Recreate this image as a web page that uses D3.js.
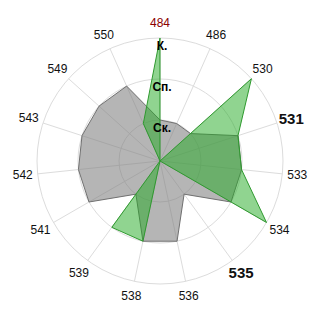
<!DOCTYPE html>
<html>
<head>
<meta charset="utf-8">
<script src="https://cdn.jsdelivr.net/npm/d3@7"></script>
<style>
body{margin:0;background:#fff;}
text{font-family:Arial,"Liberation Sans",sans-serif;}
</style>
</head>
<body>
<svg width="320" height="320"></svg>
<script>
var categories=["484","486","530","531","533","534","535","536","538","539","541","542","543","549","550"];
var grayValues=[1,1,1,2,2,2,1,2,2,1,2,2,2,2,2];
var greenValues=[3,0,3,2,2,3,0,0,2,2,0,0,0,0,1];
var ringLabels=["Ск.","Сп.","К."];
var boldCats=["531","535"];

var cx=160, cy=161, radius=123;
var svg=d3.select("svg");
var g=svg.append("g").attr("transform","translate("+cx+","+cy+")");

var angle=d3.scalePoint().domain(categories).range([0,2*Math.PI*(categories.length-1)/categories.length]);
var r=d3.scaleLinear().domain([0,3]).range([0,radius]);

// rings
g.selectAll("circle.ring").data([1,2,3]).enter()
  .append("circle")
  .attr("r",function(d){return r(d);})
  .attr("fill","none")
  .attr("stroke","#dcdcdc");

// spokes
g.selectAll("line.spoke").data(categories).enter()
  .append("line")
  .attr("x1",0).attr("y1",0)
  .attr("x2",function(d){return r(3)*Math.sin(angle(d));})
  .attr("y2",function(d){return -r(3)*Math.cos(angle(d));})
  .attr("stroke","#dcdcdc");

var radar=d3.lineRadial()
  .angle(function(d,i){return angle(categories[i]);})
  .radius(function(d){return r(d);})
  .curve(d3.curveLinearClosed);

g.append("path")
  .attr("d",radar(grayValues))
  .attr("fill","rgba(128,128,128,0.58)")
  .attr("stroke","#707070")
  .attr("stroke-width",1);

g.append("path")
  .attr("d",radar(greenValues))
  .attr("fill","rgba(34,170,34,0.5)")
  .attr("stroke","#2f9a2f")
  .attr("stroke-width",1);

// category labels
g.selectAll("text.cat").data(categories).enter()
  .append("text")
  .attr("x",function(d){return 138*Math.sin(angle(d));})
  .attr("y",function(d){return -138*Math.cos(angle(d));})
  .attr("text-anchor","middle")
  .attr("dominant-baseline","central")
  .attr("font-size",function(d){return boldCats.indexOf(d)>=0?"15px":"12px";})
  .attr("font-weight",function(d){return boldCats.indexOf(d)>=0?"bold":"normal";})
  .attr("fill",function(d,i){return i==0?"#8b0000":"#111";})
  .text(function(d){return d;});

// ring labels
g.selectAll("text.ring").data(ringLabels).enter()
  .append("text")
  .attr("x",2)
  .attr("y",function(d,i){return -r(i+1)+8;})
  .attr("text-anchor","middle")
  .attr("dominant-baseline","central")
  .attr("font-size","12px")
  .attr("font-weight","bold")
  .attr("fill","#000")
  .text(function(d){return d;});
</script>
</body>
</html>
